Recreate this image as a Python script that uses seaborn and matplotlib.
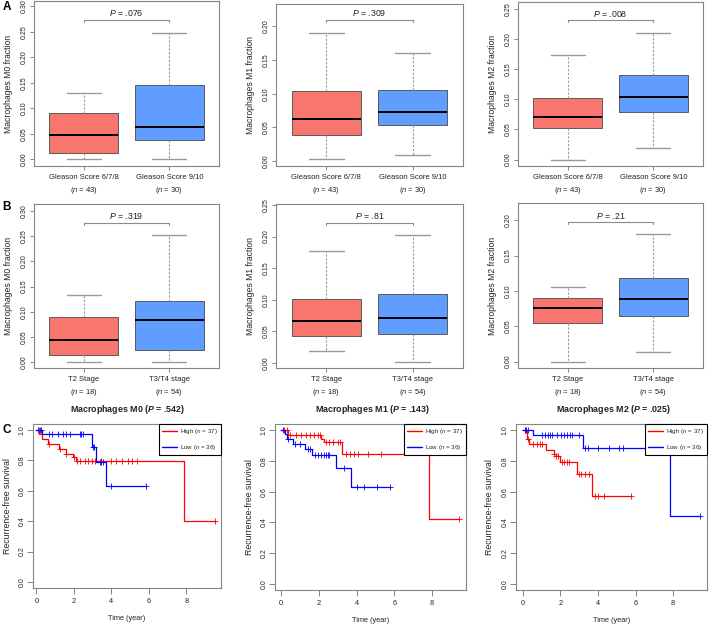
import matplotlib
matplotlib.use("Agg")
from matplotlib import pyplot as plt
import seaborn as sns
import pandas as pd
import numpy as np

# %% DATA                       ~~~~~~~~~~~~~~~~~~~~~~~~~~~~~~~~~~~~~~~~~~~~
gleason_groups = ["Gleason Score 6/7/8\n($n$ = 43)", "Gleason Score 9/10\n($n$ = 30)"]
stage_groups = ["T2 Stage\n($n$ = 18)", "T3/T4 stage\n($n$ = 54)"]
cell_types = ["M0", "M1", "M2"]

# five-number summaries: [low whisker, Q1, median, Q3, high whisker]
m0_gleason_low = [0.000, 0.0124, 0.0484, 0.0908, 0.130]
m0_gleason_high = [0.000, 0.0386, 0.0634, 0.1464, 0.2477]
m1_gleason_low = [0.0025, 0.0387, 0.062, 0.104, 0.1906]
m1_gleason_high = [0.0094, 0.053, 0.0734, 0.106, 0.161]
m2_gleason_low = [0.000, 0.053, 0.0713, 0.102, 0.174]
m2_gleason_high = [0.0199, 0.0796, 0.1044, 0.140, 0.210]

m0_stage_t2 = [0.000, 0.0139, 0.0436, 0.0886, 0.1329]
m0_stage_t34 = [0.000, 0.0231, 0.0826, 0.121, 0.2525]
m1_stage_t2 = [0.0195, 0.042, 0.066, 0.101, 0.178]
m1_stage_t34 = [0.002, 0.046, 0.071, 0.109, 0.203]
m2_stage_t2 = [0.000, 0.054, 0.0755, 0.0896, 0.1057]
m2_stage_t34 = [0.0137, 0.065, 0.0887, 0.118, 0.180]

gleason_p = [".076", ".309", ".008"]
stage_p = [".319", ".81", ".21"]
survival_p = [".542", ".143", ".025"]

# Kaplan-Meier steps (event times / survival) and censor times
m0_high_t = [0, 0.15, 0.3, 0.6, 1.2, 1.6, 1.95, 2.1, 7.85]
m0_high_s = [1, 0.973, 0.943, 0.91, 0.877, 0.845, 0.82, 0.795, 0.398]
m0_high_cens = [0.14, 0.68, 1.28, 1.6, 1.99, 2.15, 2.3, 2.58, 2.76, 2.94, 3.11, 3.47,
                4.0, 4.27, 4.54, 4.89, 5.12, 5.34, 9.5]
m0_low_t = [0, 0.3, 2.95, 3.2, 3.7]
m0_low_s = [1, 0.972, 0.89, 0.79, 0.632]
m0_low_cens = [0.09, 0.18, 0.27, 0.68, 0.85, 1.16, 1.42, 1.6, 1.81, 2.31, 2.4, 2.49,
               3.0, 3.08, 3.38, 3.47, 3.56, 4.0, 5.85]

m1_high_t = [0, 0.35, 2.1, 2.25, 3.2, 7.85]
m1_high_s = [1, 0.97, 0.945, 0.925, 0.845, 0.42]
m1_high_cens = [0.15, 0.3, 0.45, 0.8, 1.05, 1.3, 1.55, 1.75, 1.95, 2.05, 2.35, 2.55,
                2.75, 3.0, 3.1, 3.45, 3.65, 3.85, 4.05, 4.6, 5.3, 9.45]
m1_low_t = [0, 0.2, 0.3, 0.6, 1.25, 1.65, 2.9, 3.7]
m1_low_s = [1, 0.972, 0.944, 0.912, 0.88, 0.838, 0.752, 0.627]
m1_low_cens = [0.1, 0.35, 0.75, 1.0, 1.4, 1.55, 1.8, 1.95, 2.1, 2.25, 2.4, 2.5, 2.55,
               3.35, 4.0, 4.4, 5.1, 5.75]

m2_high_t = [0, 0.2, 0.25, 0.35, 1.25, 1.65, 1.75, 2.0, 2.9, 3.7]
m2_high_s = [1, 0.97, 0.94, 0.912, 0.873, 0.845, 0.83, 0.793, 0.716, 0.569]
m2_high_cens = [0.1, 0.3, 0.55, 0.75, 0.9, 1.0, 1.68, 1.78, 1.85, 2.1, 2.2, 2.35, 2.45,
                3.0, 3.1, 3.3, 3.5, 3.85, 4.0, 4.3, 5.75]
m2_low_t = [0, 0.55, 3.2, 7.85]
m2_low_s = [1, 0.969, 0.886, 0.444]
m2_low_cens = [0.1, 0.15, 0.3, 1.0, 1.2, 1.35, 1.45, 1.55, 1.8, 2.05, 2.2, 2.35, 2.5,
               2.6, 3.0, 3.3, 3.45, 4.0, 4.6, 5.1, 5.35, 9.45]

# %% STYLE                      ~~~~~~~~~~~~~~~~~~~~~~~~~~~~~~~~~~~~~~~~~~~~
sns.set_theme(style="ticks")
plt.rcParams["font.family"] = ["Liberation Sans", "DejaVu Sans"]
plt.rcParams["mathtext.fontset"] = "custom"
plt.rcParams["mathtext.rm"] = "Liberation Sans"
plt.rcParams["mathtext.it"] = "Liberation Sans:italic"
plt.rcParams["mathtext.bf"] = "Liberation Sans:bold"
plt.rcParams["mathtext.bfit"] = "Liberation Sans:italic:bold"

RED = "#F8766D"
BLUE = "#619CFF"
FRAME = "#858585"
TXT = "#222222"

W, H = 709, 626
fig = plt.figure(figsize=(W / 100, H / 100), dpi=100)


def px_axes(left, top, right, bottom):
    return fig.add_axes([left / W, 1 - bottom / H, (right - left) / W, (bottom - top) / H])


def frame(ax):
    for sp in ax.spines.values():
        sp.set_visible(True)
        sp.set_color(FRAME)
        sp.set_linewidth(0.8)
    ax.tick_params(colors=FRAME, labelcolor=TXT, length=3, width=0.7)


def box_panel(rect, low, high, groups, cell, p, ylim, ytop, bracket):
    ax = px_axes(*rect)
    df = pd.DataFrame({"group": [groups[0]] * 5 + [groups[1]] * 5, "value": low + high})
    sns.boxplot(data=df, x="group", y="value", hue="group", palette=[RED, BLUE],
                saturation=1, whis=(0, 100), width=0.8, linecolor="#5a5a5a",
                linewidth=0.7, legend=False, ax=ax,
                medianprops=dict(color="black", linewidth=1.4),
                whiskerprops=dict(color="#9a9a9a", linestyle=(0, (2, 1.5)), linewidth=0.8),
                capprops=dict(color="#9a9a9a", linewidth=1.0))
    ax.set_xlim(-0.58, 1.58)
    ax.set_ylim(*ylim)
    ticks = np.arange(0, ytop + 0.001, 0.05)
    ax.set_yticks(ticks)
    ax.set_yticklabels([f"{v:.2f}" for v in ticks], fontsize=5)
    ax.set_xticks([0, 1])
    ax.set_xticklabels(groups, fontsize=5.5, linespacing=1.5)
    frame(ax)
    ax.tick_params(axis="y", labelrotation=90, pad=1.5)
    ax.tick_params(axis="x", pad=3)
    for lbl in ax.get_yticklabels():
        lbl.set_va("center")
    ax.set_xlabel("")
    ax.set_ylabel(f"Macrophages {cell} fraction", fontsize=6.2, color=TXT)
    ax.yaxis.label.set_va("center")
    ax.yaxis.set_label_coords(-25.5 / (rect[2] - rect[0]), 0.5)
    d = 0.012 * (ylim[1] - ylim[0])
    ax.plot([0, 0, 1, 1], [bracket - d, bracket, bracket, bracket - d], color="#8c8c8c", lw=0.8)
    ax.annotate(f"$P$ = {p}", xy=(0.5, bracket), xytext=(0, 1.2), textcoords="offset points",
                ha="center", va="bottom", fontsize=6.3, color=TXT)
    return ax


def km_curve(ax, t, s, cens, color, label):
    tt = list(t) + [max(cens)]
    ss = list(s) + [s[-1]]
    sns.lineplot(x=tt, y=ss, drawstyle="steps-post", estimator=None, sort=False,
                 color=color, linewidth=0.9, label=label, ax=ax)
    idx = np.searchsorted(t, cens, side="right") - 1
    sns.scatterplot(x=cens, y=np.asarray(s)[idx], marker="+", color=color, s=16,
                    linewidth=0.6, legend=False, ax=ax)


def km_panel(rect, xlim, high, low):
    ax = px_axes(*rect)
    km_curve(ax, *high, "red", "High ($n$ = 37)")
    km_curve(ax, *low, "blue", "Low ($n$ = 36)")
    ax.set_xlim(*xlim)
    ax.set_ylim(-0.04, 1.04)
    ax.set_xticks([0, 2, 4, 6, 8])
    ax.set_yticks([0, 0.2, 0.4, 0.6, 0.8, 1.0])
    ax.set_yticklabels(["0.0", "0.2", "0.4", "0.6", "0.8", "1.0"], fontsize=5)
    ax.tick_params(axis="x", labelsize=5.3)
    frame(ax)
    ax.tick_params(axis="y", labelrotation=90, pad=1.5, length=4)
    ax.tick_params(axis="x", pad=3, length=4)
    for lbl in ax.get_yticklabels():
        lbl.set_va("center")
    ax.set_ylabel("Recurrence-free survival", fontsize=6.3, color=TXT)
    ax.yaxis.label.set_va("center")
    ax.yaxis.set_label_coords(-26 / (rect[2] - rect[0]), 0.5)
    ax.set_xlabel("Time (year)", fontsize=5.3, color=TXT)
    ax.xaxis.label.set_va("center")
    ax.xaxis.set_label_coords(0.5, -31 / (rect[3] - rect[1]))
    leg = ax.legend(loc="upper right", fontsize=4.5, frameon=True, fancybox=False,
                    edgecolor="black", framealpha=1, borderaxespad=0, handlelength=2.5,
                    borderpad=0.45, labelspacing=1.1, handletextpad=0.5)
    leg.get_frame().set_linewidth(0.8)
    for h in leg.get_lines():
        h.set_linewidth(1.0)
    return ax


# %% PANELS                     ~~~~~~~~~~~~~~~~~~~~~~~~~~~~~~~~~~~~~~~~~~~~
box_panel((34, 1, 219, 166), m0_gleason_low, m0_gleason_high, gleason_groups, "M0",
          gleason_p[0], (-0.013, 0.31), 0.30, 0.2725)
box_panel((276, 4, 463, 166), m1_gleason_low, m1_gleason_high, gleason_groups, "M1",
          gleason_p[1], (-0.0074, 0.2333), 0.20, 0.2094)
box_panel((518, 2, 703, 166), m2_gleason_low, m2_gleason_high, gleason_groups, "M2",
          gleason_p[2], (-0.0105, 0.2613), 0.25, 0.231)

box_panel((34, 204, 219, 368), m0_stage_t2, m0_stage_t34, stage_groups, "M0",
          stage_p[0], (-0.0119, 0.314), 0.30, 0.277)
box_panel((276, 204, 463, 368), m1_stage_t2, m1_stage_t34, stage_groups, "M1",
          stage_p[1], (-0.0079, 0.2516), 0.25, 0.222)
box_panel((518, 203, 703, 368), m2_stage_t2, m2_stage_t34, stage_groups, "M2",
          stage_p[2], (-0.009, 0.2245), 0.20, 0.197)

km_panel((33, 424, 221, 588), (-0.18, 9.84),
         (m0_high_t, m0_high_s, m0_high_cens), (m0_low_t, m0_low_s, m0_low_cens))
km_panel((275, 424, 466, 590), (-0.33, 9.8),
         (m1_high_t, m1_high_s, m1_high_cens), (m1_low_t, m1_low_s, m1_low_cens))
km_panel((516, 424, 707, 590), (-0.36, 9.8),
         (m2_high_t, m2_high_s, m2_high_cens), (m2_low_t, m2_low_s, m2_low_cens))

# survival titles
for cx, cell, p in zip([127.5, 373, 614], cell_types, survival_p):
    fig.text(cx / W, 1 - 409 / H, f"Macrophages {cell} ($\\mathbfit{{P}}$ = {p})",
             ha="center", va="center", fontsize=6.4, fontweight="bold", color=TXT)

for letter, (lx, ly) in zip("ABC", [(6.5, 7), (6, 207), (7, 430)]):
    fig.text(lx / W, 1 - ly / H, letter, ha="center", va="center", fontsize=8.5,
             fontweight="bold", color="black")

fig.savefig("out.png", dpi=100)
